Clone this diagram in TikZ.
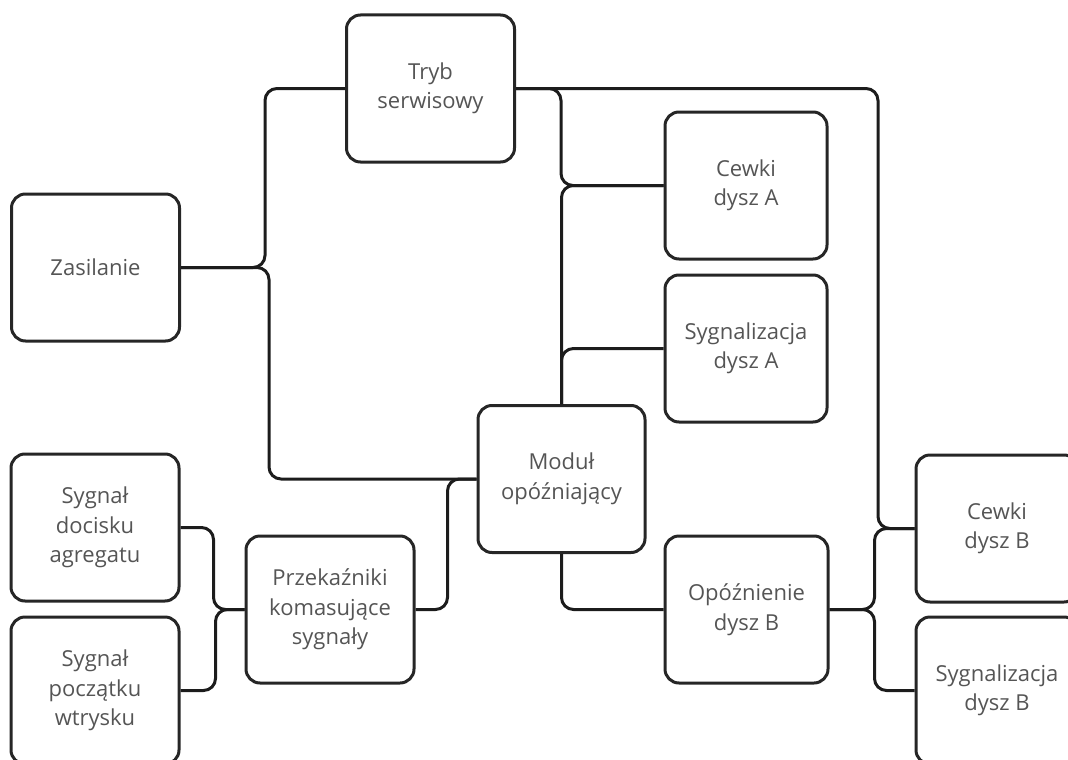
\documentclass[tikz,border=0pt]{standalone}
\usepackage{fontspec}
\setmainfont{Open Sans}
\begin{document}
\begin{tikzpicture}[x=1pt,y=-1pt,
  box/.style={draw=boxline, line width=3pt, rounded corners=14pt,
    minimum width=#1, minimum height=147pt, align=center,
    text=labelgrey, font=\fontsize{22}{29.5}\selectfont, inner sep=0pt},
  box/.default=168pt,
  link/.style={draw=linkblack, line width=3pt, rounded corners=12pt}]
\definecolor{boxline}{HTML}{262626}
\definecolor{linkblack}{HTML}{1C1C1C}
\definecolor{labelgrey}{HTML}{555555}
\useasboundingbox (0,0) rectangle (1068,760);
\clip (0,0) rectangle (1068,760);

% blocks
\node[box] (tryb) at (430.5,88.5) {Tryb\\serwisowy};
\node[box] (zas) at (95.5,267.5) {Zasilanie};
\node[box=162pt] (cewA) at (746,185.5) {Cewki\\dysz A};
\node[box=162pt] (sygA) at (746,348.5) {Sygnalizacja\\dysz A};
\node[box=167pt] (mod) at (561.5,479) {Moduł\\opóźniający};
\node[box] (przek) at (330,609.5) {Przekaźniki\\komasujące\\sygnały};
\node[box] (doc) at (95,527.5) {Sygnał\\docisku\\agregatu};
\node[box] (pocz) at (95,690.5) {Sygnał\\początku\\wtrysku};
\node[box=163pt] (opoz) at (746.5,609.5) {Opóźnienie\\dysz B};
\node[box=162pt] (cewB) at (997,528.5) {Cewki\\dysz B};
\node[box=162pt] (sygB) at (997,690.5) {Sygnalizacja\\dysz B};

% connections
\draw[link] (zas.east) -- ++(84,0) |- (tryb.west);
\draw[link] (zas.east) -- ++(88,0) |- (mod.west);
\draw[link] (tryb.east) -- ++(45,0) |- (cewA.west);
\draw[link] (tryb.east) -| ++(362,440) -- (cewB.west);
\draw[link] (mod.north) |- (cewA.west);
\draw[link] (mod.north) |- (sygA.west);
\draw[link] (mod.south) |- (opoz.west);
\draw[link] (przek.east) -- ++(32,0) |- (mod.west);
\draw[link] (doc.east) -- ++(33,0) |- (przek.west);
\draw[link] (pocz.east) -- ++(35,0) |- (przek.west);
\draw[link] (opoz.east) -- ++(45,0) |- (cewB.west);
\draw[link] (opoz.east) -- ++(45,0) |- (sygB.west);
\end{tikzpicture}
\end{document}
